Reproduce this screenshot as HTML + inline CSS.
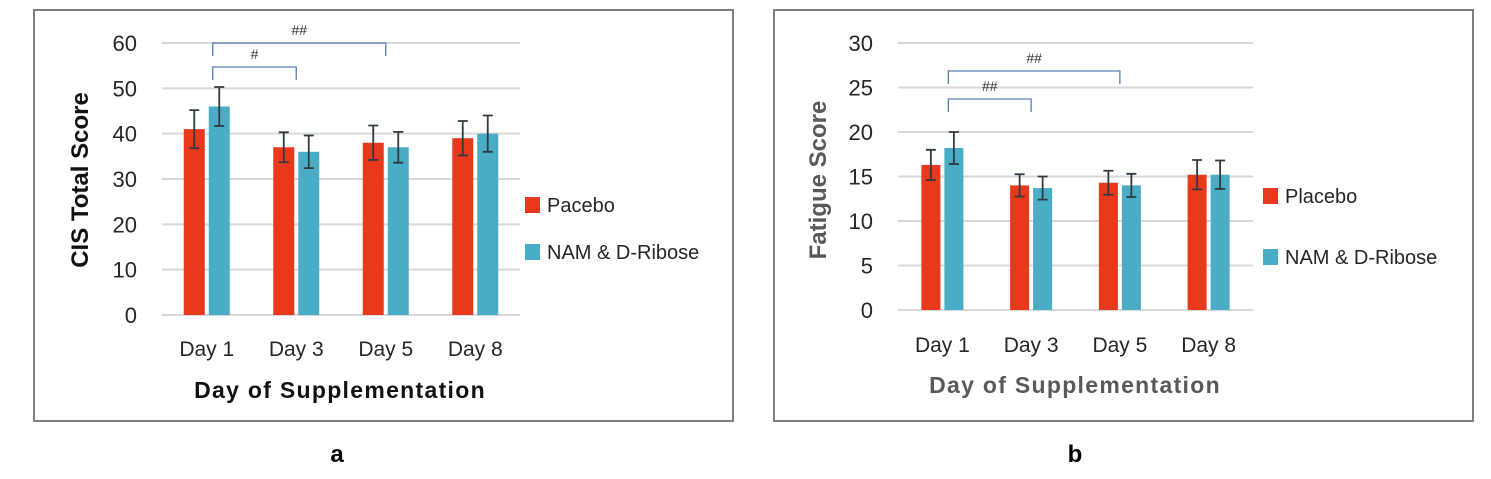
<!DOCTYPE html>
<html><head><meta charset="utf-8"><style>
html,body{margin:0;padding:0;background:#fff;}
svg{display:block;font-family:"Liberation Sans",sans-serif;}
</style></head><body>
<svg id="s" width="1491" height="479" viewBox="0 0 1491 479" xmlns="http://www.w3.org/2000/svg">
<rect x="34" y="10" width="699" height="411" fill="#fff" stroke="#7f7f7f" stroke-width="2"/>
<rect x="774" y="10" width="699" height="411" fill="#fff" stroke="#7f7f7f" stroke-width="2"/>
<text x="337" y="462" font-size="24" font-weight="bold" text-anchor="middle">a</text>
<text x="1075" y="462" font-size="24" font-weight="bold" text-anchor="middle">b</text>
</svg>
<script>
const categories = ["Day 1","Day 3","Day 5","Day 8"];
const aPlacebo = [41,37,38,39];
const aNam = [46,36,37,40];
const aPlaceboErr = [4.2,3.3,3.8,3.8];
const aNamErr = [4.3,3.6,3.4,4.0];
const aTicks = [0,10,20,30,40,50,60];
const bPlacebo = [16.3,14,14.3,15.2];
const bNam = [18.2,13.7,14,15.2];
const bPlaceboErr = [1.7,1.25,1.35,1.65];
const bNamErr = [1.8,1.3,1.3,1.6];
const bTicks = [0,5,10,15,20,25,30];

const NS="http://www.w3.org/2000/svg";
const svg=document.getElementById('s');
function mk(tag,attrs,parent){const e=document.createElementNS(NS,tag);for(const k in attrs)e.setAttribute(k,attrs[k]);(parent||svg).appendChild(e);return e;}

function chart(cfg){
  const g=mk('g',{});
  
  
  const ymax=cfg.ticks[cfg.ticks.length-1];
  const y=v=>cfg.y0-(v/ymax)*(cfg.y0-cfg.yTop);
  const bw=(cfg.x1-cfg.x0)/categories.length;
  const cx=i=>cfg.x0+bw*(i+0.5);
  cfg.ticks.forEach(t=>{
    const l=mk('line',{x1:cfg.x0,x2:cfg.x1,y1:y(t),y2:y(t),stroke:'#d9d9d9','stroke-width':2},g);
    
    
    const tx=mk('text',{x:cfg.tickX,y:y(t)+8,'font-size':22,'text-anchor':'end',fill:'#262626'},g);
    
    
    tx.textContent=t;
  });
  categories.forEach((c,i)=>{
    const series=[[cfg.p[i],cfg.pe[i],'#e8391c',-cfg.barW-2],[cfg.n[i],cfg.ne[i],'#4bacc6',2]];
    series.forEach((s,j)=>{
      const bx=cx(i)+s[3];
      const r=mk('rect',{x:bx,y:y(s[0]),width:cfg.barW,height:y(0)-y(s[0]),fill:s[2]},g);
      
      
      const mx=bx+cfg.barW/2;
      const e=mk('path',{d:`M${mx},${y(s[0]+s[1])}V${y(s[0]-s[1])}M${mx-5},${y(s[0]+s[1])}h10M${mx-5},${y(s[0]-s[1])}h10`,stroke:'#2f3b40','stroke-width':1.8,fill:'none'},g);
      
      
    });
    const t=mk('text',{x:cx(i),y:cfg.xLabY,'font-size':21,'text-anchor':'middle',fill:'#262626'},g);
    
    
    t.textContent=c;
  });
  const xt=mk('text',{x:cfg.xTitleX,y:cfg.xTitleY,'font-size':23,'font-weight':'bold','text-anchor':'middle',fill:cfg.titleColor,'letter-spacing':1.3},g);
  
  
  xt.textContent='Day of Supplementation';
  const yt=mk('text',{x:0,y:0,'font-size':24,'font-weight':'bold','text-anchor':'middle',fill:cfg.titleColor,transform:`translate(${cfg.yTitleX},${cfg.yTitleY}) rotate(-90)`},g);
  
  
  yt.textContent=cfg.yTitle;
  cfg.brackets.forEach(b=>{
    const xa=cx(0)+6, xb=cx(b.to);
    const p=mk('path',{d:`M${xa},${b.y+13}V${b.y}H${xb}V${b.y+13}`,stroke:'#5b7db5','stroke-width':1.3,fill:'none'},g);
    
    
    const t=mk('text',{x:(xa+xb)/2,y:b.y-8,'font-size':14,'text-anchor':'middle',fill:'#333'},g);
    
    
    t.textContent=b.label;
  });
  const leg=[['#e8391c',cfg.leg1,cfg.legY1],['#4bacc6','NAM & D-Ribose',cfg.legY2]];
  leg.forEach((L,k)=>{
    const r=mk('rect',{x:cfg.legX,y:L[2],width:15,height:16,fill:L[0]},g);
    
    
    const t=mk('text',{x:cfg.legX+22,y:L[2]+15,'font-size':20,fill:'#262626'},g);
    
    
    t.textContent=L[1];
  });
}
chart({id:'chart-a',x0:162,x1:520,y0:315,yTop:43,ticks:aTicks,p:aPlacebo,n:aNam,pe:aPlaceboErr,ne:aNamErr,barW:21,tickX:137,xLabY:356,xTitleX:340,xTitleY:398,yTitleX:88,yTitleY:180,yTitle:'CIS Total Score',titleColor:'#111',
  brackets:[{to:2,y:43,label:'##'},{to:1,y:67,label:'#'}],legX:525,legY1:197,legY2:244,leg1:'Pacebo'});
chart({id:'chart-b',x0:898,x1:1253,y0:310,yTop:43,ticks:bTicks,p:bPlacebo,n:bNam,pe:bPlaceboErr,ne:bNamErr,barW:19,tickX:873,xLabY:352,xTitleX:1075,xTitleY:393,yTitleX:826,yTitleY:180,yTitle:'Fatigue Score',titleColor:'#595959',
  brackets:[{to:2,y:71,label:'##'},{to:1,y:99,label:'##'}],legX:1263,legY1:188,legY2:249,leg1:'Placebo'});
</script>
</body></html>
